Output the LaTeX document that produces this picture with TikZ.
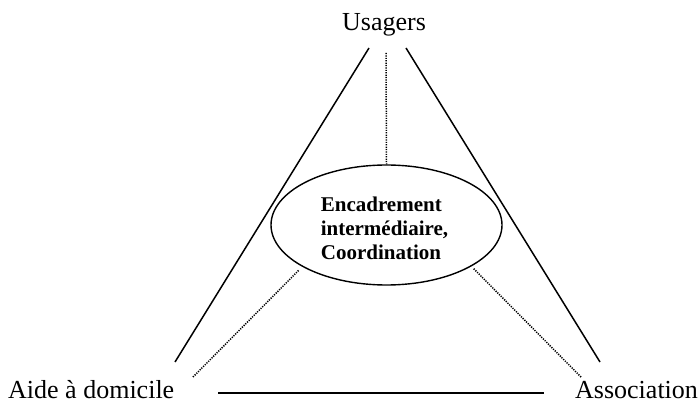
\documentclass[tikz,border=0pt]{standalone}
\usepackage{fontspec}
\setmainfont{Liberation Serif}
\usetikzlibrary{shapes.geometric}
\begin{document}
\begin{tikzpicture}[x=1pt,y=-1pt,
  actor/.style={font=\fontsize{26}{30}\selectfont, inner sep=0pt},
  solidlink/.style={line width=1.5pt},
  dotlink/.style={line width=1.5pt, dash pattern=on 1.2pt off 1.2pt},
  hub/.style={ellipse, draw, line width=1.4pt, minimum width=231pt, minimum height=120pt, inner sep=0pt},
  hubtext/.style={font=\fontsize{21}{24}\selectfont\bfseries, align=left, inner sep=0pt}]
  \useasboundingbox (0,0) rectangle (699,403);

  % the three poles
  \node[actor, anchor=base] (usagers) at (384,31) {Usagers};
  \node[actor, anchor=base west] (aide) at (8,398) {Aide à domicile};
  \node[actor, anchor=base west] (assoc) at (575,398) {Association};

  % intermediate management in the middle
  \node[hub] (hub) at (386.5,225) {};
  \node[hubtext] (hublabel) at (384.5,228) {Encadrement\\intermédiaire,\\Coordination};

  % triangle sides
  \coordinate (lt) at (369,48);
  \coordinate (lb) at (175,362);
  \coordinate (rt) at (406,48);
  \coordinate (rb) at (600,362);
  \coordinate (bl) at (218,393);
  \coordinate (br) at (544,393);
  \draw[solidlink] (lt) -- (lb);
  \draw[solidlink] (rt) -- (rb);
  \draw[solidlink] (bl) -- (br);

  % dotted links to the hub
  \coordinate (vt) at (386,53);
  \coordinate (dl) at (193,377);
  \coordinate (dr) at (581,377);
  \coordinate (hl) at (299,270);
  \coordinate (hr) at (473,268);
  \draw[dotlink] (vt) -- (hub.north);
  \draw[dotlink] (dl) -- (hl);
  \draw[dotlink] (dr) -- (hr);
\end{tikzpicture}
\end{document}
